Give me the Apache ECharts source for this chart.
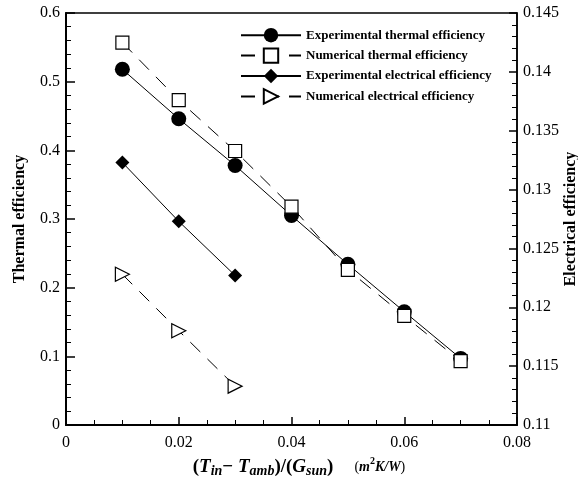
<!DOCTYPE html>
<html>
<head>
<meta charset="utf-8">
<script src="https://cdn.jsdelivr.net/npm/echarts@6/dist/echarts.min.js"></script>
<style>
  html, body { margin: 0; padding: 0; background: #fff; }
  #chart { width: 578px; height: 477px; }
</style>
</head>
<body>
<div id="chart"></div>
<script>
// x values (m2K/W)
const xThermal = [0.01, 0.02, 0.03, 0.04, 0.05, 0.06, 0.07];
const xElectrical = [0.01, 0.02, 0.03];

// left axis: thermal efficiency
const expThermal = [0.518, 0.446, 0.378, 0.305, 0.234, 0.165, 0.097];
const numThermal = [0.557, 0.473, 0.399, 0.318, 0.226, 0.159, 0.093];

// right axis: electrical efficiency
const expElectrical = [0.1323, 0.1273, 0.1227];
const numElectrical = [0.1228, 0.1180, 0.1133];

const serif = 'Liberation Serif';

function pairs(xs, ys) {
  return xs.map((x, i) => [x, ys[i]]);
}

const chart = echarts.init(document.getElementById('chart'));
chart.setOption({
  animation: false,
  grid: {
    left: 66, right: 61, top: 13, bottom: 52,
    outerBoundsMode: 'none', containLabel: false,
    show: true, borderColor: '#000', borderWidth: 1.5
  },
  legend: {
    left: 235, top: 23, orient: 'vertical',
    itemWidth: 60, itemHeight: 18, itemGap: 5,
    textStyle: { fontFamily: serif, fontWeight: 'bold', fontSize: 13, color: '#000' },
    data: ['Experimental thermal efficiency', 'Numerical thermal efficiency',
           'Experimental electrical efficiency', 'Numerical electrical efficiency']
  },
  xAxis: {
    type: 'value', min: 0, max: 0.08, interval: 0.02,
    axisLine: { lineStyle: { color: '#000', width: 2 } },
    axisTick: { inside: true, length: 8, lineStyle: { color: '#000', width: 1.5 } },
    minorTick: { show: true, splitNumber: 4, length: 5, lineStyle: { color: '#000' } },
    splitLine: { show: false },
    axisLabel: { fontFamily: serif, fontSize: 16, color: '#000', margin: 10,
      formatter: v => v === 0 ? '0' : String(+v.toFixed(2)) },
    name: '{b|(}{bi|T}{s|in}{b|− }{bi|T}{s|amb}{b|)/(}{bi|G}{s|sun}{b|)}{u|      (}{ui|m}{sup|2}{ui|K/W}{u|)}',
    nameLocation: 'middle', nameGap: 31,
    nameTextStyle: {
      padding: [0, 0, 0, 15],
      rich: {
        b: { fontFamily: serif, fontWeight: 'bold', fontSize: 19, color: '#000' },
        bi: { fontFamily: serif, fontWeight: 'bold', fontStyle: 'italic', fontSize: 19, color: '#000' },
        s: { fontFamily: serif, fontWeight: 'bold', fontStyle: 'italic', fontSize: 14, color: '#000', verticalAlign: 'bottom', padding: [8, 0, 0, 0] },
        u: { fontFamily: serif, fontSize: 14, color: '#000' },
        ui: { fontFamily: serif, fontStyle: 'italic', fontWeight: 'bold', fontSize: 14, color: '#000' },
        sup: { fontFamily: serif, fontWeight: 'bold', fontSize: 10, color: '#000', verticalAlign: 'top', padding: [0, 0, 6, 0] }
      }
    }
  },
  yAxis: [{
    type: 'value', min: 0, max: 0.6, interval: 0.1, position: 'left',
    axisLine: { show: true, lineStyle: { color: '#000', width: 2 } },
    axisTick: { show: true, inside: true, length: 9, lineStyle: { color: '#000', width: 1.5 } },
    minorTick: { show: true, splitNumber: 5, length: 5, lineStyle: { color: '#000' } },
    splitLine: { show: false },
    axisLabel: { fontFamily: serif, fontSize: 16, color: '#000', margin: 6,
      formatter: v => v === 0 ? '0' : String(+v.toFixed(1)) },
    name: 'Thermal efficiency', nameLocation: 'middle', nameGap: 38, nameRotate: 90,
    nameMoveOverlap: false,
    nameTextStyle: { fontFamily: serif, fontWeight: 'bold', fontSize: 16, color: '#000' }
  }, {
    type: 'value', min: 0.11, max: 0.145, interval: 0.005, position: 'right',
    axisLine: { show: true, lineStyle: { color: '#000', width: 1.5 } },
    axisTick: { show: true, inside: true, length: 8, lineStyle: { color: '#000', width: 1.5 } },
    minorTick: { show: true, splitNumber: 5, length: 5, lineStyle: { color: '#000' } },
    splitLine: { show: false },
    axisLabel: { fontFamily: serif, fontSize: 16, color: '#000', margin: 6,
      formatter: v => String(+v.toFixed(3)) },
    name: 'Electrical efficiency', nameLocation: 'middle', nameGap: 46, nameRotate: 90,
    nameMoveOverlap: false,
    nameTextStyle: { fontFamily: serif, fontWeight: 'bold', fontSize: 16, color: '#000' }
  }],
  series: [{
    name: 'Experimental thermal efficiency', type: 'line', yAxisIndex: 0,
    data: pairs(xThermal, expThermal),
    symbol: 'circle', symbolSize: 15, z: 4,
    itemStyle: { color: '#000' },
    lineStyle: { color: '#000', width: 1 }
  }, {
    name: 'Numerical thermal efficiency', type: 'line', yAxisIndex: 0,
    data: pairs(xThermal, numThermal),
    symbol: 'rect', symbolSize: 13, z: 5,
    itemStyle: { color: '#fff', borderColor: '#000', borderWidth: 1.2 },
    lineStyle: { color: '#000', width: 1, type: [14, 10] }
  }, {
    name: 'Experimental electrical efficiency', type: 'line', yAxisIndex: 1,
    data: pairs(xElectrical, expElectrical),
    symbol: 'diamond', symbolSize: 14, z: 4,
    itemStyle: { color: '#000' },
    lineStyle: { color: '#000', width: 1 }
  }, {
    name: 'Numerical electrical efficiency', type: 'line', yAxisIndex: 1,
    data: pairs(xElectrical, numElectrical),
    symbol: 'triangle', symbolSize: 14, symbolRotate: -90, z: 4,
    itemStyle: { color: '#fff', borderColor: '#000', borderWidth: 1.2 },
    lineStyle: { color: '#000', width: 1, type: [14, 10] }
  }]
});
</script>
</body>
</html>
